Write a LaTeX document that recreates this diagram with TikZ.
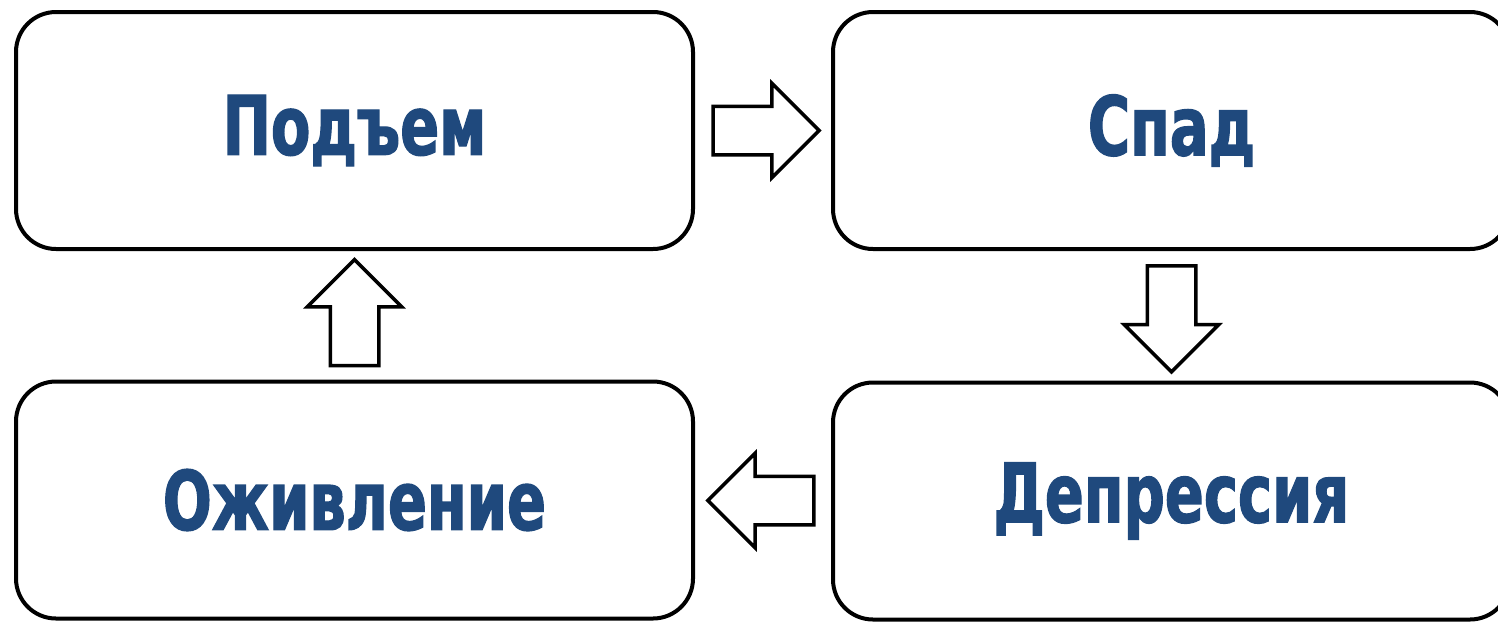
\documentclass[tikz,border=0pt]{standalone}
\usepackage{fontspec}
\newfontfamily\stagefont{DejaVu Sans Condensed Bold}[FakeStretch=0.78,FakeBold=1.5]
\usetikzlibrary{shapes.arrows,calc}
\definecolor{stagetext}{RGB}{31,73,125}
\tikzset{
	stage/.style={draw, line width=4pt, rounded corners=40pt, minimum width=677pt, minimum height=237pt, inner sep=0pt, font=\stagefont\fontsize{82}{90}\selectfont, text=stagetext},
	flow/.style={draw, line width=3.5pt, single arrow, single arrow head extend=23pt, inner xsep=0pt, inner ysep=22.5pt, minimum height=106pt}
}

\begin{document}
\begin{tikzpicture}[x=1pt,y=1pt,yscale=-1,xscale=1]
	\useasboundingbox (0,0) rectangle (1498,622);

	% Stages
	\node [stage] (rise) at (354.5,130.5) {Подъем};
	\node [stage] (fall) at (1171.5,130.5) {Спад};
	\node [stage] (depression) at (1171.5,501) {Депрессия};
	\node [stage] (revival) at (354.5,500) {Оживление};

	% Block arrows (text anchor sits in the shaft, so shift back)
	\node [flow] (toFall) at ($(rise.east)!0.5!(fall.west)+(-9,0)$) {};
	\node [flow, rotate=-90] (toDepression) at ($(fall.south)!0.5!(depression.north)+(0,-9)$) {};
	\node [flow, rotate=180] (toRevival) at ($(depression.west)!0.5!(revival.east)+(10,0)$) {};
	\node [flow, rotate=90] (toRise) at ($(revival.north)!0.5!(rise.south)+(0,9.5)$) {};

\end{tikzpicture}
\end{document}
